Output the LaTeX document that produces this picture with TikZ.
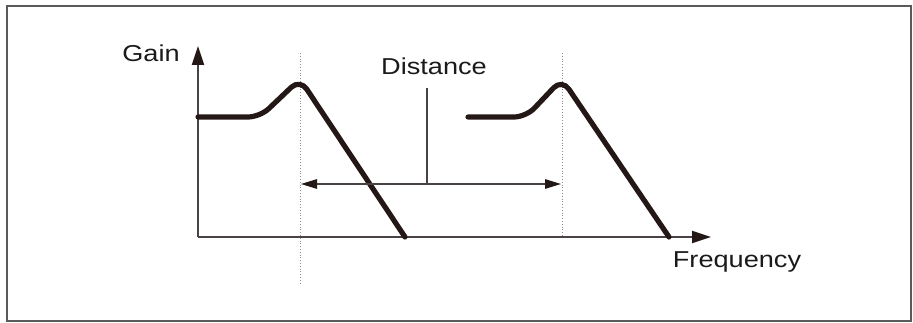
\documentclass[tikz,border=0pt]{standalone}
\usepackage{graphicx}
\usepackage{fontspec}
\setmainfont{Liberation Sans}
\usetikzlibrary{arrows.meta}
\definecolor{curvecol}{HTML}{231815}
\definecolor{axiscol}{HTML}{4A4343}
\definecolor{framecol}{HTML}{5A5A5A}
\definecolor{dotcol}{HTML}{8A8A8A}
\definecolor{textcol}{HTML}{1A1A1A}
\newcommand{\wide}[1]{\scalebox{1.18}[1]{#1}}
\begin{document}
\begin{tikzpicture}[x=1pt,y=-1pt,
  lbl/.style={font=\fontsize{23}{26}\selectfont, inner sep=0pt, anchor=base, text=textcol},
  curve/.style={line width=5.2pt, draw=curvecol, line cap=round, line join=round, rounded corners=12pt},
  axis/.style={line width=1.8pt, draw=axiscol, -{Triangle[length=19pt,width=12pt,fill=curvecol,color=curvecol]}},
  guide/.style={line width=0.8pt, draw=dotcol, dotted},
  dimline/.style={line width=1.4pt, draw=axiscol, {Triangle[length=16pt,width=9.5pt,fill=curvecol,color=curvecol]}-{Triangle[length=16pt,width=9.5pt,fill=curvecol,color=curvecol]}},
  leader/.style={line width=1.3pt, draw=axiscol}]
\useasboundingbox (0,0) rectangle (913,323);
\draw[line width=2pt, draw=framecol] (7,6) rectangle (911,321);

% axes
\coordinate (O) at (198,237);
\coordinate (ytip) at (198,46);
\coordinate (xtip) at (711,237);
\draw[axis] (O) -- (ytip);
\draw[axis] (O) -- (xtip);

% guides
\coordinate (g1top) at (300,53);
\coordinate (g1bot) at (300,285);
\coordinate (g2top) at (562,53);
\coordinate (g2bot) at (562,237);
\draw[guide] (g1top) -- (g1bot);
\draw[guide] (g2top) -- (g2bot);

% curves
\draw[curve] (198,117) -- (260,117) -- (300,79) -- (405,237);
\draw[curve] (468,117) -- (526,117) -- (562,79) -- (669,237);

% distance
\coordinate (d1) at (301,184);
\coordinate (d2) at (561,184);
\draw[dimline] (d1) -- (d2);
\coordinate (ltop) at (427,88);
\coordinate (lbot) at (427,184);
\draw[leader] (ltop) -- (lbot);

% labels
\node[lbl] (gain) at (151,62) {\wide{Gain}};
\node[lbl] (dist) at (434,75) {\wide{Distance}};
\node[lbl] (freq) at (737,268) {\wide{Frequency}};
\end{tikzpicture}
\end{document}
